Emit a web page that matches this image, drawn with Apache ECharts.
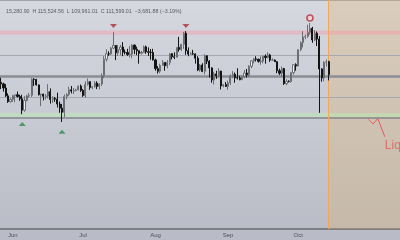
<!DOCTYPE html>
<html><head><meta charset="utf-8">
<script src="https://cdn.jsdelivr.net/npm/echarts@6/dist/echarts.min.js"></script>
<style>html,body{margin:0;padding:0;background:#c8cbd3;}#c{width:400px;height:240px;}</style>
</head><body><div id="c"></div>
<script>
// ---- data ----
const startDate = '2025-05-27';
const totalDays = 171; // includes empty future days
const monthTicks = {'06':'Jun','07':'Jul','08':'Aug','09':'Sep','10':'Oct'};
// [open, close, low, high]
const candles = [
[109440,108990,107500,110720],[108990,107800,106800,109300],[107800,105600,105300,108900],[105600,103980,103600,106300],[103980,104640,103700,104950],
[104640,105700,103900,105900],[105700,105900,103800,105950],[105900,105430,105100,106800],[105430,104780,104200,105900],[104780,101540,100400,105900],
[101540,104300,101100,105500],[104300,105600,104000,105900],[105600,105750,105100,106400],[105750,110270,105300,110600],[110270,110250,108400,110600],
[110250,108690,108500,110400],[108690,105930,105700,108800],[105930,106070,102700,106200],[106070,105470,104300,106200],[105470,105540,104600,106100],
[105540,106790,104900,108900],[106790,104550,103400,107700],[104550,104880,103600,105500],[104880,104660,103900,105300],[104660,103300,102300,106500],
[103300,102120,100800,104000],[102120,100960,98200,103300],[100960,105400,99600,106000],[105400,106000,104600,106300],[106000,107300,105600,108200],
[107300,106950,106300,108400],[106950,107100,106100,107800],[107100,107300,106900,107600],[107300,108350,107100,108500],[108350,107150,106700,108800],
[107150,105680,105300,107500],[105680,108850,105100,109700],[108850,109600,108500,110500],[109600,107980,107300,109700],[107980,108200,107500,108400],
[108200,109200,107900,109700],[109200,108250,107500,109700],[108250,108950,107400,109200],[108950,111300,108400,111900],[111300,115950,110600,116800],
[115950,117500,115300,118800],[117500,117450,116900,118200],[117450,119100,117200,119400],[119100,119850,118800,123600],[119850,117750,115700,119900],
[117750,118650,116900,120000],[118650,119400,117100,120000],[119400,117950,116800,120800],[117950,117850,117300,118700],[117850,117300,116900,118900],
[117300,117400,116500,119700],[117400,119950,116200,120200],[119950,118750,117400,120100],[118750,118350,117100,119500],[118350,117600,114700,118400],
[117600,117900,117300,118300],[117900,119450,117800,119800],[119450,118050,117500,119800],[118050,117900,116900,119300],[117900,117850,115800,118800],
[117850,115750,115600,118900],[115750,113300,112700,116100],[113300,112550,111900,114000],[112550,114200,112000,114700],[114200,115050,114100,115700],
[115050,114100,112700,115100],[114100,115000,113400,115700],[115000,117500,114300,117600],[117500,116650,115900,117700],[116650,116500,116000,117900],
[116500,119300,116500,119300],[119300,118700,118100,122300],[118700,120150,118300,120300],[120150,123300,118900,123700],[123300,118350,117200,123900],
[118350,117400,116800,119300],[117400,117500,117200,117900],[117500,117450,117200,118600],[117450,116250,114700,117600],[116250,112900,112600,116800],
[112900,114300,112400,114600],[114300,112500,112300,114800],[112500,116950,111700,117400],[116950,115400,114600,117000],[115400,113500,110800,115700],
[113500,110100,109300,113700],[110100,111800,108800,112400],[111800,111250,110400,112700],[111250,112600,110800,113400],[112600,108400,107400,112700],
[108400,108800,108000,108900],[108800,108250,108100,109500],[108250,109250,107300,109900],[109250,111250,108700,111700],[111250,111700,110600,112600],
[111700,110700,109300,112200],[110700,110650,110200,113400],[110650,110200,110000,111300],[110200,111150,110000,111300],[111150,112050,110600,112900],
[112050,111550,110800,113200],[111550,113950,110900,114300],[113950,115500,113400,115600],[115500,116050,114800,116300],[116050,115950,115300,116800],
[115950,115350,115000,116100],[115350,115400,114400,116800],[115400,116800,114800,117000],[116800,116450,114700,117300],[116450,117150,116200,117900],
[117150,115700,115200,117500],[115700,115700,115500,116200],[115700,115250,115200,115900],[115250,112700,112000,115400],[112700,112000,111500,113300],
[112000,113300,111100,113900],[113300,109050,108700,113500],[109050,109700,108600,110300],[109700,109650,109400,110000],[109650,112150,109300,112300],
[112150,114400,111600,114500],[114400,114050,112700,114800],[114050,118650,113900,118700],[118650,120650,118200,121000],[120650,122250,119300,123900],
[122250,122400,121600,122900],[122400,123500,122000,125700],[123500,124700,122900,126200],[124700,121400,120600,125100],[121400,123300,121100,124200],
[123300,121650,119700,123800],[121650,113200,100800,122500],[113200,110650,109600,113400],[110650,115050,109700,115400],[115050,115280,113900,115900],
[115280,111600,109960,115520]
];
const headerText = '15,280.90  H 115,524.56  L 109,961.01  C 111,599.01  \u22123,681.88 (\u22123.19%)';
const resistanceBand = [122900, 124050];
const thinLevels = [117150, 105270];
const priceLine = 111250;
const supportBand = [99600, 100750];
const supportLine = 99330;
const projectionStart = '2025-10-14';
const peakMarks = [['2025-07-14', 125350], ['2025-08-14', 125350]];
const athMark = [['2025-10-06', 127600]];
const lowMarks = [['2025-06-05', 97640], ['2025-06-22', 95460]];
const arrowPath = [['2025-10-31', 98970], ['2025-11-02', 97640], ['2025-11-04', 99190], ['2025-11-07', 94050]];
const noteLabel = [['2025-11-07', 91400]];
const noteText = 'Liquidity';

// ---- categories ----
const categories = [];
const d0 = new Date(startDate + 'T00:00:00Z');
for (let i = 0; i < totalDays; i++) {
  const d = new Date(d0.getTime() + i * 86400000);
  categories.push(d.toISOString().slice(0, 10));
}

const arrowData = arrowPath.map((p, i) => i === arrowPath.length - 1
  ? {value: p, symbol: 'triangle', symbolSize: [4, 5], symbolRotate: -157}
  : {value: p});

const chart = echarts.init(document.getElementById('c'), null, {renderer: 'canvas'});
chart.setOption({
  animation: false,
  backgroundColor: new echarts.graphic.LinearGradient(0, 0, 0, 1, [
    {offset: 0, color: '#d5d8df'}, {offset: 1, color: '#b9bcc6'}
  ]),
  textStyle: {fontFamily: 'Liberation Sans, DejaVu Sans, sans-serif'},
  title: {
    text: headerText, left: 1, top: 4,
    textStyle: {fontSize: 5.3, color: '#575a62', fontWeight: 'normal'}
  },
  graphic: [{type: 'rect', shape: {x: 0, y: 0, width: 400, height: 1}, style: {fill: '#a3a5ac'}, silent: true}],
  grid: {left: 0, right: 0, top: 0, bottom: 11},
  xAxis: {
    type: 'category', data: categories, boundaryGap: true,
    axisLine: {lineStyle: {color: '#696b72', width: 1.5}},
    axisTick: {show: false},
    splitLine: {show: false},
    axisLabel: {
      interval: (idx, v) => v.slice(8) === '01' && monthTicks[v.slice(5, 7)] !== undefined,
      formatter: v => monthTicks[v.slice(5, 7)] || '',
      fontSize: 6, color: '#4d5058', margin: 3
    }
  },
  yAxis: {type: 'value', min: 67950, max: 132700, show: false, splitLine: {show: false}},
  series: [
    {
      type: 'line', data: [], z: 1, silent: true,
      markArea: {
        silent: true, z: 1,
        data: [
          [{xAxis: projectionStart, itemStyle: {color: 'rgba(231,170,85,0.25)'}}, {}],
          [{yAxis: resistanceBand[0], itemStyle: {color: 'rgba(250,150,165,0.42)'}}, {yAxis: resistanceBand[1]}],
          [{yAxis: supportBand[0], itemStyle: {color: 'rgba(185,235,175,0.5)'}}, {yAxis: supportBand[1]}]
        ]
      },
      markLine: {
        silent: true, z: 1, symbol: 'none', label: {show: false},
        data: [
          {yAxis: thinLevels[0], lineStyle: {color: '#a5a8b0', width: 1, type: 'solid'}},
          {yAxis: thinLevels[1], lineStyle: {color: '#a5a8b0', width: 1, type: 'solid'}},
          {yAxis: priceLine, lineStyle: {color: '#8b8d94', width: 2.5, type: 'solid'}},
          {yAxis: supportLine, lineStyle: {color: '#84868d', width: 1.5, type: 'solid'}},
          {xAxis: projectionStart, lineStyle: {color: '#f0a95c', width: 1, type: 'solid'}}
        ]
      }
    },
    {
      type: 'candlestick', data: candles, z: 3, barWidth: '70%',
      itemStyle: {color: '#eeeef1', color0: '#141414', borderColor: '#6c6e74', borderColor0: '#141414', borderWidth: 1}
    },
    {
      type: 'scatter', data: peakMarks, z: 4, symbol: 'triangle', symbolRotate: 180, symbolSize: [7, 4],
      itemStyle: {color: '#a8323c'}
    },
    {
      type: 'scatter', data: athMark, z: 4, symbol: 'circle', symbolSize: 6,
      itemStyle: {color: '#f3d5d8', borderColor: '#b8303c', borderWidth: 1.6}
    },
    {
      type: 'scatter', data: lowMarks, z: 4, symbol: 'triangle', symbolSize: [7, 4],
      itemStyle: {color: '#2f8a4c'}
    },
    {
      type: 'line', data: arrowData, z: 4, showSymbol: true, symbol: 'none',
      lineStyle: {color: '#e15c5e', width: 1}, itemStyle: {color: '#e15c5e'}
    },
    {
      type: 'scatter', data: noteLabel, z: 4, symbolSize: 0,
      label: {show: true, formatter: noteText, position: 'right', distance: 0, color: '#e2585b', fontSize: 12}
    }
  ]
});
</script>
</body></html>
